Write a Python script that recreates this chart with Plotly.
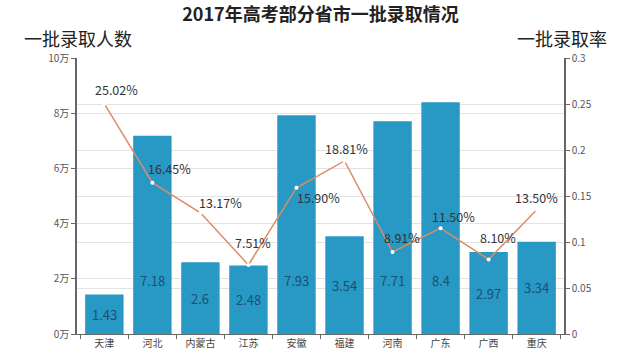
import plotly.graph_objects as go

# 2017 first-tier admissions by province: head count (万) and admission rate
provinces = ["天津", "河北", "内蒙古", "江苏", "安徽", "福建", "河南", "广东", "广西", "重庆"]
admitted_wan = [1.43, 7.18, 2.6, 2.48, 7.93, 3.54, 7.71, 8.4, 2.97, 3.34]
admit_rate = [0.2502, 0.1645, 0.1317, 0.0751, 0.1590, 0.1881, 0.0891, 0.1150, 0.0810, 0.1350]
rate_labels = ["25.02%", "16.45%", "13.17%", "7.51%", "15.90%", "18.81%", "8.91%", "11.50%", "8.10%", "13.50%"]

left_ticks = [0, 2, 4, 6, 8, 10]
left_tick_text = ["0万", "2万", "4万", "6万", "8万", "10万"]
right_ticks = [0, 0.05, 0.1, 0.15, 0.2, 0.25, 0.3]
right_tick_text = ["0", "0.05", "0.1", "0.15", "0.2", "0.25", "0.3"]

FONT = "Noto Sans CJK SC"
BAR_COLOR = "#2899c4"
LINE_COLOR = "#dc8c66"

W, H = 640, 350
ML, MR, MT, MB = 77, 76, 58, 16
PLOT_W = W - ML - MR
PLOT_H = H - MT - MB

fig = go.Figure()

fig.add_trace(go.Bar(
    x=provinces, y=admitted_wan,
    marker=dict(color=BAR_COLOR, line=dict(width=0)),
    yaxis="y", showlegend=False, hoverinfo="x+y",
))

fig.add_trace(go.Scatter(
    x=provinces, y=admit_rate, yaxis="y2", mode="lines+markers",
    line=dict(color=LINE_COLOR, width=1.5),
    marker=dict(size=4, color="white", line=dict(width=0)),
    showlegend=False,
))

# value labels inside the bars
for p, v in zip(provinces, admitted_wan):
    fig.add_annotation(
        x=p, y=min(v / 2, 1.95), xref="x", yref="y",
        text=str(v), showarrow=False,
        font=dict(family=FONT, size=13, color="#1b4f78"),
    )

# rate labels beside the line points
shifts = [(12, 14), (17, 14), (20, 10), (5, 22), (22, -10),
          (2, 12), (9, 15), (13, 12), (9, 22), (0, 12)]
for p, r, t, (dx, dy) in zip(provinces, admit_rate, rate_labels, shifts):
    fig.add_annotation(
        x=p, y=r, xref="x", yref="y2", text=t, showarrow=False,
        xshift=dx, yshift=dy,
        font=dict(family=FONT, size=12.5, color="#333333"),
    )

fig.update_layout(
    width=W, height=H,
    margin=dict(l=ML, r=MR, t=MT, b=MB, autoexpand=False),
    paper_bgcolor="white", plot_bgcolor="white",
    bargap=0.2,
    font=dict(family=FONT, color="#555555"),
    title=dict(text="<b>2017年高考部分省市一批录取情况</b>", x=0.5, xanchor="center",
               xref="paper", y=1 - 15 / H, yanchor="middle",
               font=dict(family=FONT, size=18, color="#222222")),
    xaxis=dict(
        automargin=False,
        showline=True, linecolor="#666666", linewidth=1,
        ticks="outside", tickson="boundaries", ticklen=4, tickcolor="#666666",
        tickfont=dict(family=FONT, size=10, color="#444444"),
        showgrid=False, fixedrange=True,
    ),
    yaxis=dict(
        automargin=False,
        range=[0, 10], tickvals=left_ticks, ticktext=left_tick_text,
        showline=True, linecolor="#666666", linewidth=1.5,
        ticks="outside", ticklen=4, tickcolor="#666666",
        tickfont=dict(family=FONT, size=10, color="#555555"),
        showgrid=True, gridcolor="#e3e3e3", gridwidth=1, zeroline=False,
    ),
    yaxis2=dict(
        automargin=False,
        range=[0, 0.3], tickvals=right_ticks, ticktext=right_tick_text,
        overlaying="y", side="right",
        showline=True, linecolor="#666666", linewidth=1.5,
        ticks="outside", ticklen=4, tickcolor="#666666",
        tickfont=dict(family=FONT, size=10, color="#555555"),
        showgrid=True, gridcolor="#e3e3e3", gridwidth=1, zeroline=False,
    ),
)

# axis titles above each side
title_y = (H - MB - 38) / PLOT_H
fig.add_annotation(
    x=(22 - ML) / PLOT_W, y=title_y, xref="paper", yref="paper",
    xanchor="left", yanchor="middle",
    text="一批录取人数", showarrow=False, font=dict(family=FONT, size=18, color="#222222"),
)
fig.add_annotation(
    x=(609 - ML) / PLOT_W, y=title_y, xref="paper", yref="paper",
    xanchor="right", yanchor="middle",
    text="一批录取率", showarrow=False, font=dict(family=FONT, size=18, color="#222222"),
)

fig.write_html("out.html")
